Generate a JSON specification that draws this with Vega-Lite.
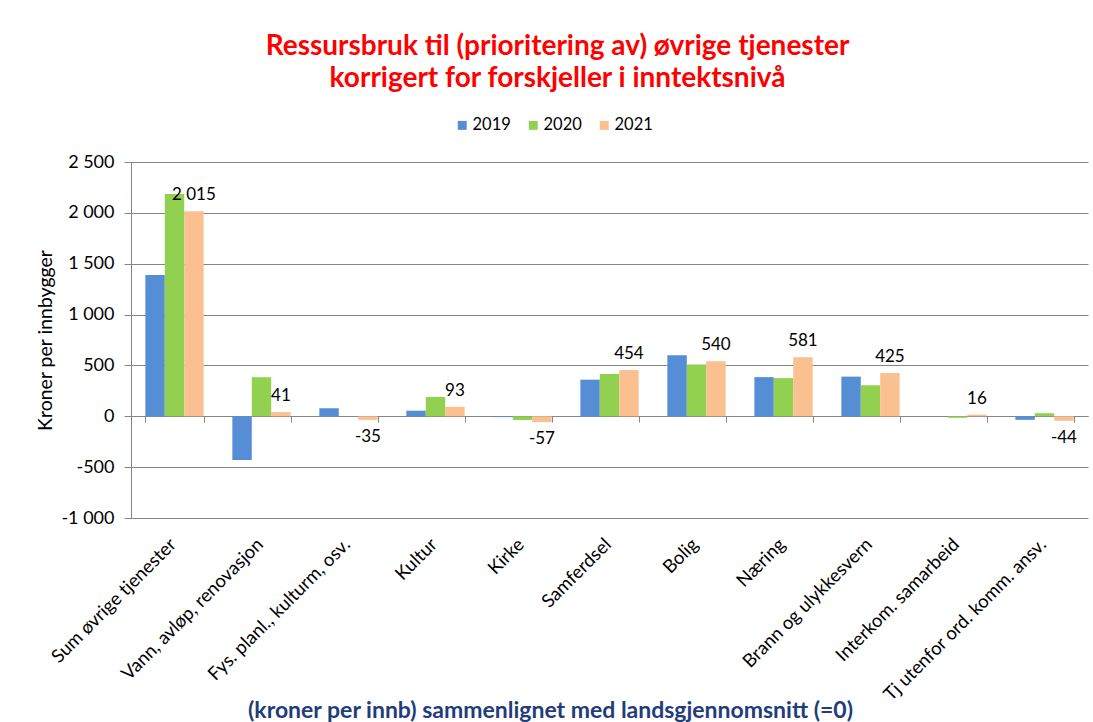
{
  "$schema": "https://vega.github.io/schema/vega-lite/v6.json",
  "width": 957,
  "height": 356,
  "autosize": {"type": "none"},
  "padding": {"left": 131, "top": 162, "right": 5, "bottom": 204},
  "background": "white",
  "config": {
    "locale": {"number": {"decimal": ",", "thousands": " ", "grouping": [3], "currency": ["", " kr"], "minus": "-"}},
    "font": "Lato",
    "view": {"stroke": null}
  },
  "title": {
    "text": ["Ressursbruk til (prioritering av) øvrige tjenester", "korrigert for forskjeller i inntektsnivå"],
    "color": "#FF0000",
    "fontSize": 28,
    "fontWeight": "bold",
    "font": "Lato",
    "anchor": "middle",
    "dx": -52,
    "lineHeight": 32,
    "offset": 24
  },
  "data": {
    "values": [
      {"category": "Sum øvrige tjenester", "year": "2019", "value": 1390},
      {"category": "Sum øvrige tjenester", "year": "2020", "value": 2185},
      {"category": "Sum øvrige tjenester", "year": "2021", "value": 2015},
      {"category": "Vann, avløp, renovasjon", "year": "2019", "value": -430},
      {"category": "Vann, avløp, renovasjon", "year": "2020", "value": 385},
      {"category": "Vann, avløp, renovasjon", "year": "2021", "value": 41},
      {"category": "Fys. planl., kulturm, osv.", "year": "2019", "value": 80},
      {"category": "Fys. planl., kulturm, osv.", "year": "2020", "value": 0},
      {"category": "Fys. planl., kulturm, osv.", "year": "2021", "value": -35},
      {"category": "Kultur", "year": "2019", "value": 55},
      {"category": "Kultur", "year": "2020", "value": 190},
      {"category": "Kultur", "year": "2021", "value": 93},
      {"category": "Kirke", "year": "2019", "value": -8},
      {"category": "Kirke", "year": "2020", "value": -37},
      {"category": "Kirke", "year": "2021", "value": -57},
      {"category": "Samferdsel", "year": "2019", "value": 360},
      {"category": "Samferdsel", "year": "2020", "value": 415},
      {"category": "Samferdsel", "year": "2021", "value": 454},
      {"category": "Bolig", "year": "2019", "value": 600},
      {"category": "Bolig", "year": "2020", "value": 510},
      {"category": "Bolig", "year": "2021", "value": 540},
      {"category": "Næring", "year": "2019", "value": 385},
      {"category": "Næring", "year": "2020", "value": 375},
      {"category": "Næring", "year": "2021", "value": 581},
      {"category": "Brann og ulykkesvern", "year": "2019", "value": 390},
      {"category": "Brann og ulykkesvern", "year": "2020", "value": 305},
      {"category": "Brann og ulykkesvern", "year": "2021", "value": 425},
      {"category": "Interkom. samarbeid", "year": "2019", "value": 0},
      {"category": "Interkom. samarbeid", "year": "2020", "value": -15},
      {"category": "Interkom. samarbeid", "year": "2021", "value": 16},
      {"category": "Tj utenfor ord. komm. ansv.", "year": "2019", "value": -35},
      {"category": "Tj utenfor ord. komm. ansv.", "year": "2020", "value": 30},
      {"category": "Tj utenfor ord. komm. ansv.", "year": "2021", "value": -44}
    ]
  },
  "encoding": {
    "x": {
      "field": "category",
      "type": "nominal",
      "sort": null,
      "scale": {"paddingInner": 0.33, "paddingOuter": 0.165},
      "axis": {
        "title": "(kroner per innb) sammenlignet med landsgjennomsnitt (=0)",
        "labelAngle": -45,
        "labelAlign": "right",
        "labelBaseline": "middle",
        "labelLimit": 0,
        "labelOffset": -2,
        "offset": -102,
        "labelPadding": 119,
        "tickBand": "extent",
        "tickSize": 6,
        "domainColor": "#868686",
        "tickColor": "#868686",
        "labelFontSize": 18.5,
        "labelColor": "#000000",
        "labelFont": "Lato",
        "titleColor": "#1F3D7A",
        "titleFontSize": 23,
        "titleFontWeight": "bold",
        "titleFont": "Lato",
        "titleX": 419,
        "titleY": 294,
        "titleBaseline": "middle",
        "titleAlign": "center"
      }
    },
    "y": {
      "field": "value",
      "type": "quantitative",
      "scale": {"domain": [-1000, 2500], "nice": false, "zero": false},
      "axis": {
        "values": [-1000, -500, 0, 500, 1000, 1500, 2000, 2500],
        "format": ",d",
        "title": "Kroner per innbygger",
        "grid": true,
        "gridColor": "#868686",
        "domainColor": "#868686",
        "tickColor": "#868686",
        "tickSize": 7,
        "labelFontSize": 18,
        "labelColor": "#000000",
        "labelPadding": 10,
        "titleFontSize": 19.5,
        "titleFontWeight": "normal",
        "titleColor": "#000000",
        "titleX": -86,
        "titleY": 178,
        "titleAlign": "center",
        "titleBaseline": "middle"
      }
    },
    "xOffset": {"field": "year", "sort": ["2019", "2020", "2021"], "scale": {"paddingInner": 0, "paddingOuter": 0}}
  },
  "layer": [
    {
      "mark": {"type": "bar"},
      "encoding": {
        "color": {
          "field": "year",
          "type": "nominal",
          "scale": {"domain": ["2019", "2020", "2021"], "range": ["#558ED5", "#92D050", "#FAC090"]},
          "legend": {
            "orient": "none",
            "legendX": 323,
            "legendY": -45,
            "direction": "horizontal",
            "title": null,
            "symbolType": "square",
            "symbolSize": 80,
            "symbolStrokeWidth": 0,
            "labelFontSize": 16.5,
            "labelOffset": 2,
            "labelColor": "#000000",
            "columnPadding": 14
          }
        }
      }
    },
    {
      "transform": [{"filter": "datum.year == '2021' && datum.value >= 0"}],
      "mark": {"type": "text", "baseline": "bottom", "dy": -7, "fontSize": 17, "color": "#000000"},
      "encoding": {"text": {"field": "value", "type": "quantitative", "format": ",d"}}
    },
    {
      "transform": [{"filter": "datum.year == '2021' && datum.value < 0"}],
      "mark": {"type": "text", "baseline": "top", "dy": 9, "fontSize": 17, "color": "#000000"},
      "encoding": {"text": {"field": "value", "type": "quantitative", "format": ",d"}}
    }
  ]
}
